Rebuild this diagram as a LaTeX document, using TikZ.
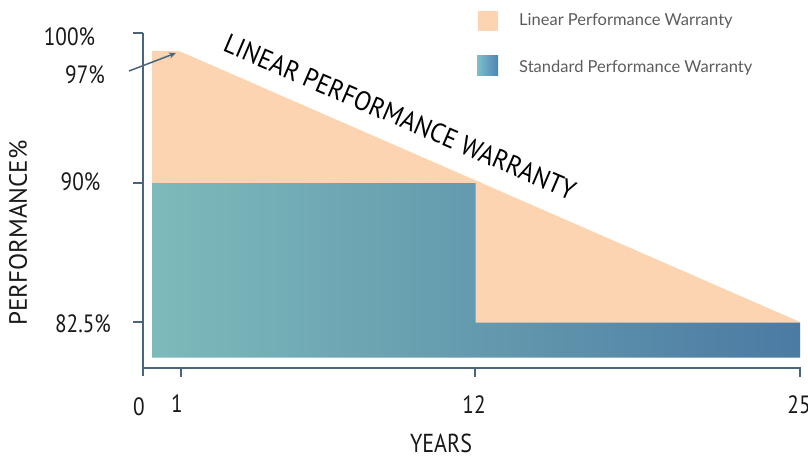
\documentclass[tikz,border=0pt]{standalone}
\usepackage{fontspec}
\setmainfont{PT Sans}
\newfontfamily\condfont{PT Sans}[FakeStretch=0.85]
\newfontfamily\titlefont{PT Sans}[FakeStretch=0.92]
\newfontfamily\legendfont{Lato}
\usetikzlibrary{arrows.meta}
\definecolor{peach}{HTML}{FCD4B2}
\definecolor{tealL}{HTML}{7DBABA}
\definecolor{blueR}{HTML}{4B7AA3}
\definecolor{legL}{HTML}{7BC0C9}
\definecolor{legR}{HTML}{4E84B5}
\definecolor{axiscol}{HTML}{4A6478}
\definecolor{legtext}{HTML}{5C5C5C}
\begin{document}
\begin{tikzpicture}[x=1pt,y=-1pt,
  axisline/.style={draw=axiscol,line width=2pt},
  ylab/.style={font=\condfont\fontsize{25}{25}\selectfont,inner sep=0pt,text=black!90},
  xlab/.style={font=\condfont\fontsize{25}{25}\selectfont,inner sep=0pt,text=black!90},
  legtxt/.style={font=\legendfont\fontsize{16.5}{17}\selectfont,inner sep=0pt,anchor=base west,text=legtext}]
\useasboundingbox (0,0) rectangle (808,459);
% areas
\fill[peach] (152,51) -- (179,51) -- (800,322) -- (800,357) -- (152,357) -- cycle;
\shade[left color=tealL,right color=blueR] (152,183) -- (475.5,183) -- (475.5,322.5) -- (800,322.5) -- (800,357.5) -- (152,357.5) -- cycle;
% axes
\draw[axisline] (143,33) -- (143,376);
\draw[axisline] (142,368) -- (800,368) -- (800,377);
\draw[axisline] (133,33) -- (143,33);
\draw[axisline] (133,183) -- (143,183);
\draw[axisline] (133,322) -- (143,322);
\draw[axisline] (181,368) -- (181,377);
\draw[axisline] (475,368) -- (475,377);
% y labels
\node[ylab] (l100) at (69.5,37) {100\%};
\node[ylab] (l97) at (85,74.5) {97\%};
\node[ylab] (l90) at (80.5,182) {90\%};
\node[ylab] (l825) at (83,324) {82.5\%};
% x labels
\node[xlab] (x0) at (139,407) {0};
\node[xlab] (x1) at (177,404) {1};
\node[xlab] (x12) at (474,405) {12};
\node[xlab] (x25) at (799,405) {25};
\node[font=\condfont\fontsize{26}{26}\selectfont,inner sep=0pt,text=black!90] (years) at (441,443) {YEARS};
\node[font=\fontsize{25}{25}\selectfont,inner sep=0pt,rotate=90,text=black!90] (perf) at (18,233) {PERFORMANCE\%};
% slanted title
\node[font=\titlefont\fontsize{27}{27}\selectfont,inner sep=0pt,rotate=-23.2,text=black] (lin) at (400,117) {LINEAR PERFORMANCE WARRANTY};
% arrow
\coordinate (as) at (129,71);
\coordinate (ae) at (176,53);
\draw[axiscol,line width=1.5pt,-{Stealth[length=7pt,width=6pt]}] (as) -- (ae);
% legend
\fill[peach] (478,11) rectangle (498,31);
\shade[left color=legL,right color=legR] (477,55) rectangle (498,75);
\node[legtxt] (leg1) at (519,25) {Linear Performance Warranty};
\node[legtxt] (leg2) at (519,72.5) {Standard Performance Warranty};
\end{tikzpicture}
\end{document}
